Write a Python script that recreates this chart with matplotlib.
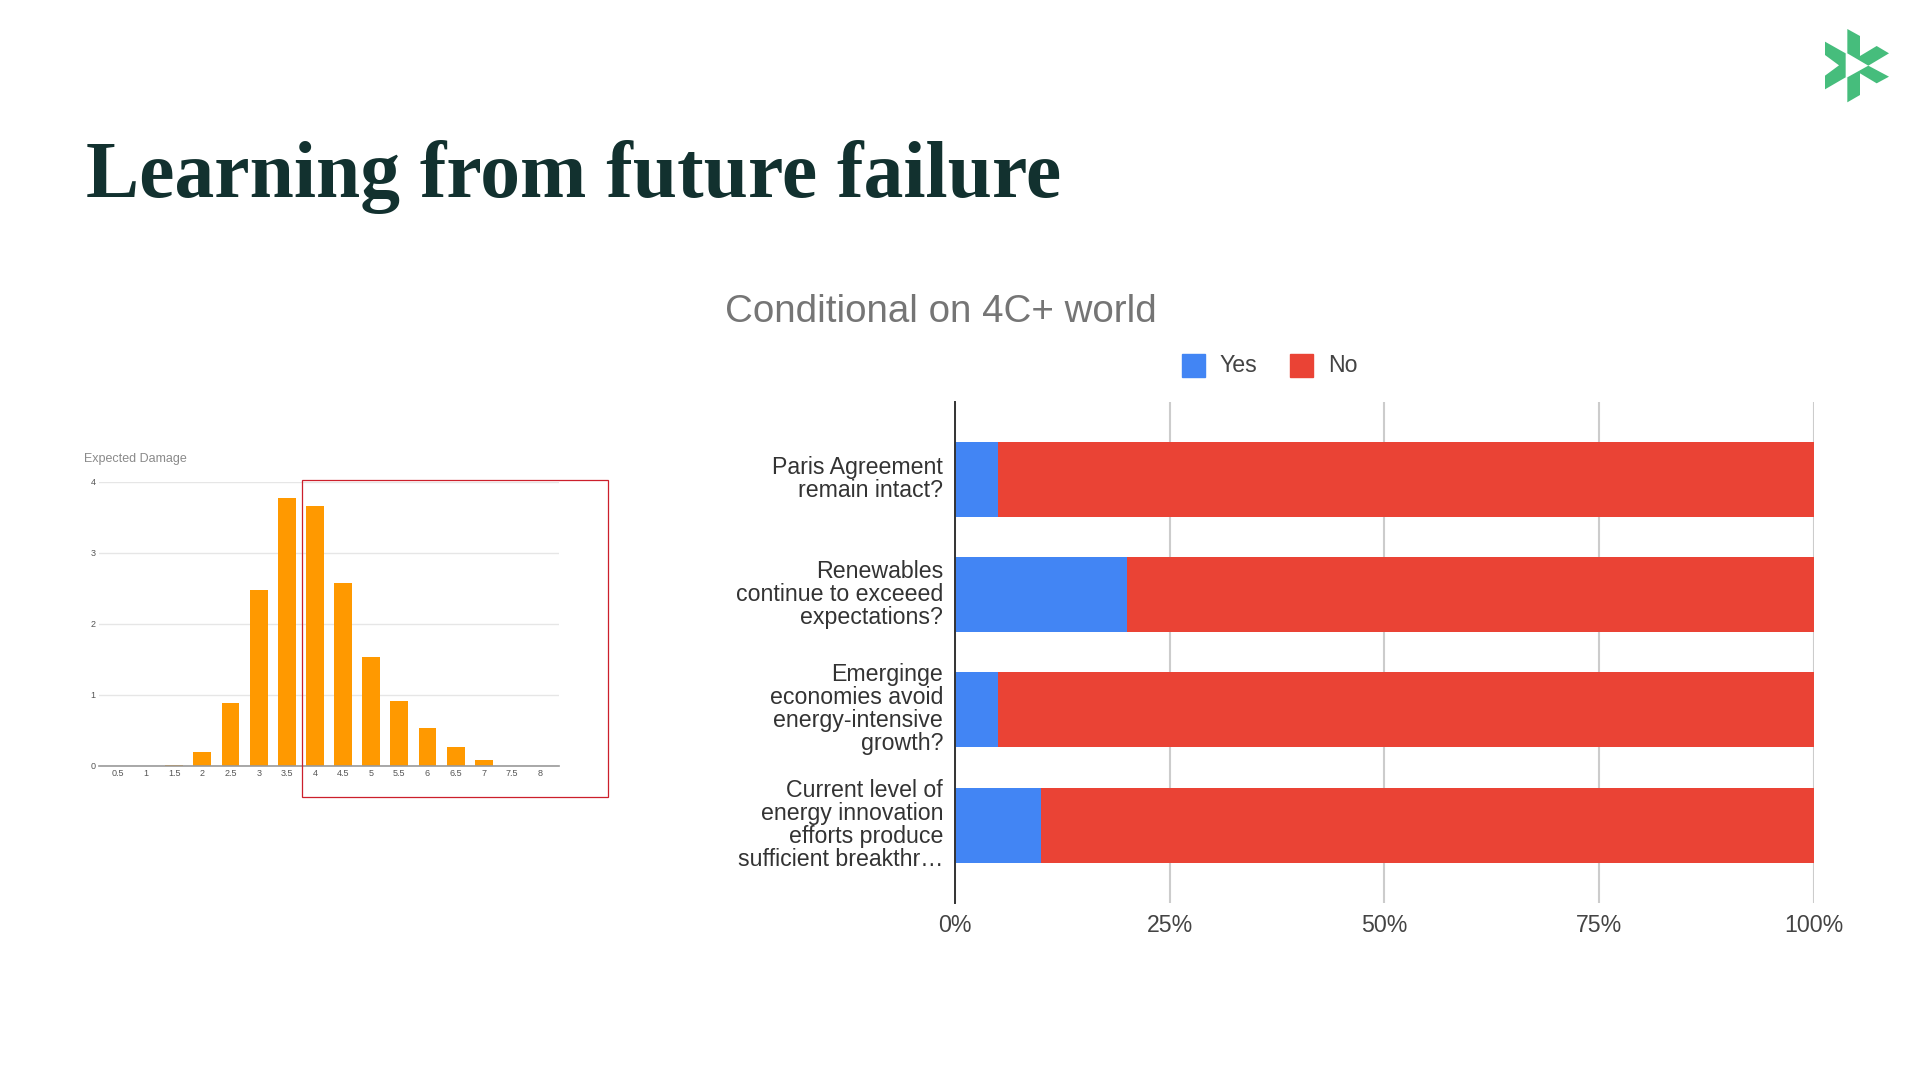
import matplotlib
matplotlib.use('Agg')
import matplotlib.pyplot as plt
from matplotlib.patches import Polygon, Rectangle
from matplotlib.transforms import ScaledTranslation

# stacked chart
questions = ['Paris Agreement\nremain intact?',
             'Renewables\ncontinue to exceeed\nexpectations?',
             'Emerginge\neconomies avoid\nenergy-intensive\ngrowth?',
             'Current level of\nenergy innovation\nefforts produce\nsufficient breakthr\u2026']
yes_pct = [5, 20, 5, 10]
no_pct = [95, 80, 95, 90]
pct_ticks = [0, 25, 50, 75, 100]

# small histogram
damage_labels = ['0.5', '1', '1.5', '2', '2.5', '3', '3.5', '4', '4.5', '5',
                 '5.5', '6', '6.5', '7', '7.5', '8']
damage_values = [0, 0, 0.01, 0.197, 0.88, 2.48, 3.77, 3.66, 2.58, 1.53,
                 0.906, 0.526, 0.258, 0.085, 0, 0]

W, H = 1920, 1080

plt.rcParams['font.family'] = ['Liberation Sans', 'DejaVu Sans']

def px_axes(fig, left, top, right, bottom):
    return fig.add_axes([left / W, 1 - bottom / H, (right - left) / W, (bottom - top) / H])

def logo_px(points):
    return [(1815 + x / 3, 20 + y / 3) for x, y in points]

fig = plt.figure(figsize=(19.2, 10.8), dpi=100)
fig.patch.set_facecolor('white')

# overlay in pixel coords for slide furniture
bg = fig.add_axes([0, 0, 1, 1])
bg.set_xlim(0, W)
bg.set_ylim(H, 0)
bg.axis('off')

bg.text(86, 197, 'Learning from future failure', family=['Liberation Serif', 'DejaVu Serif'],
        weight='bold', fontsize=57.3, color='#12312f', va='baseline', ha='left')
bg.text(941, 312, 'Conditional on 4C+ world', fontsize=27.7, color='#757575', va='center', ha='center')
bg.text(84, 459, 'Expected Damage', fontsize=9, color='#8a8a8a', va='center', ha='left')

# legend
bg.add_patch(Rectangle((1182, 354), 23, 23, color='#4285f4'))
bg.text(1220, 365, 'Yes', fontsize=16.7, color='#444444', va='center', ha='left')
bg.add_patch(Rectangle((1290, 354), 23, 23, color='#ea4335'))
bg.text(1328, 365, 'No', fontsize=16.7, color='#444444', va='center', ha='left')

# logo
logo_green = '#46bd7c'
logo_parts = [
    [(97, 27), (135, 48), (135, 108), (185, 78), (222, 100), (160, 137), (97, 100)],
    [(160, 137), (222, 170), (185, 190), (135, 160), (135, 225), (97, 247), (97, 172)],
    [(30, 65), (92, 100), (92, 172), (30, 208), (30, 167), (72, 136), (30, 105)],
]
for part in logo_parts:
    bg.add_patch(Polygon(logo_px(part), closed=True, color=logo_green, lw=0))

# main chart
ax = px_axes(fig, 955, 402, 1813.5, 902.5)
ax.barh(range(len(questions)), yes_pct, height=0.65, color='#4285f4', zorder=3)
ax.barh(range(len(questions)), no_pct, left=yes_pct, height=0.65, color='#ea4335', zorder=3)
ax.set_xlim(0, 100)
ax.set_ylim(3.67, -0.67)
ax.set_xticks(pct_ticks)
ax.set_xticklabels([f'{p}%' for p in pct_ticks], fontsize=16.7, color='#444444')
ax.set_yticks(range(len(questions)))
ax.set_yticklabels(questions, fontsize=16.7, color='#333333', linespacing=1.0, ha='right')
ax.tick_params(axis='both', length=0)
ax.tick_params(axis='x', pad=8.4)
ax.tick_params(axis='y', pad=8.5)
for lbl in ax.get_yticklabels():
    lbl.set_transform(lbl.get_transform() + ScaledTranslation(0, 3 / 100, fig.dpi_scale_trans))
ax.grid(axis='x', color='#cccccc', lw=1.5, zorder=1)
for s in ['top', 'right', 'bottom']:
    ax.spines[s].set_visible(False)
ax.spines['left'].set_color('#333333')
ax.spines['left'].set_linewidth(1.4)
ax.spines['left'].set_zorder(5)
ax.patch.set_alpha(0)

# small chart
ax2 = px_axes(fig, 99, 481.7, 559, 765.7)
ax2.bar(range(len(damage_labels)), damage_values, width=0.633, color='#ff9900', zorder=3)
ax2.set_xlim(-0.675, 15.675)
ax2.set_ylim(0, 4)
ax2.set_yticks([0, 1, 2, 3, 4])
ax2.set_xticks(range(len(damage_labels)))
ax2.set_xticklabels(damage_labels, fontsize=6.5, color='#555555')
ax2.tick_params(axis='both', length=0, labelsize=6.5, labelcolor='#555555')
ax2.tick_params(axis='x', pad=2.4)
ax2.tick_params(axis='y', pad=2.3)
ax2.grid(axis='y', color='#e6e6e6', lw=1, zorder=1)
for s in ['top', 'right', 'left']:
    ax2.spines[s].set_visible(False)
ax2.spines['bottom'].set_color('#999999')
ax2.spines['bottom'].set_linewidth(1.2)
ax2.spines['bottom'].set_zorder(4)
ax2.patch.set_alpha(0)

# red highlight box on top
top = fig.add_axes([0, 0, 1, 1], zorder=10)
top.set_xlim(0, W)
top.set_ylim(H, 0)
top.axis('off')
top.add_patch(Rectangle((301.5, 479.7), 306, 317, fill=False, edgecolor='#cc1f2b', lw=0.9))

fig.savefig('out.png', dpi=100)
